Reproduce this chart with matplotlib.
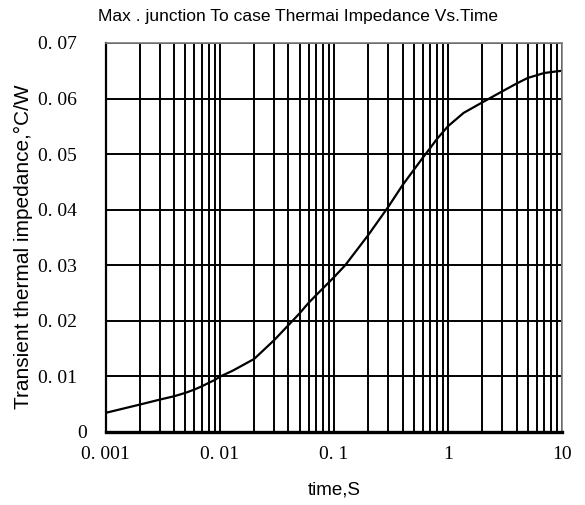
import numpy as np
import matplotlib.pyplot as plt
import matplotlib.transforms as mtransforms
from matplotlib.ticker import LogLocator, FixedLocator, FixedFormatter, NullFormatter

# curve (time in s, impedance in C/W)
t = [0.001, 0.002, 0.003, 0.004, 0.005, 0.006, 0.007, 0.008, 0.009, 0.01,
     0.013, 0.02, 0.03, 0.04, 0.05, 0.06, 0.07, 0.1, 0.126, 0.2,
     0.3, 0.4, 0.5, 0.6, 0.7, 0.8, 1, 1.37, 2, 3,
     4, 5, 7, 10]
z = [0.0034, 0.0049, 0.0058, 0.0064, 0.0070, 0.0076, 0.0082, 0.0088, 0.0093, 0.0099,
     0.0110, 0.0131, 0.0165, 0.0192, 0.0213, 0.0232, 0.0246, 0.0278, 0.0300, 0.0354,
     0.0405, 0.0444, 0.0471, 0.0493, 0.0511, 0.0527, 0.0550, 0.0574, 0.0593, 0.0613,
     0.0627, 0.0637, 0.0646, 0.0650]

xticks = [0.001, 0.01, 0.1, 1, 10]
xlabels = ['0. 001', '0. 01', '0. 1', '1', '10']
yticks = [0, 0.01, 0.02, 0.03, 0.04, 0.05, 0.06, 0.07]
ylabels = ['0', '0. 01', '0. 02', '0. 03', '0. 04', '0. 05', '0. 06', '0. 07']

sans = ['Liberation Sans Narrow', 'Liberation Sans', 'DejaVu Sans']
serif = ['Liberation Serif', 'DejaVu Serif']

fig = plt.figure(figsize=(5.85, 5.05), dpi=100)
ax = fig.add_axes([0.1807, 0.1451, 0.7800, 0.7698])

ax.set_xscale('log')
ax.set_xlim(0.001, 10)
ax.set_ylim(0, 0.07)

ax.xaxis.set_major_locator(FixedLocator(xticks))
ax.xaxis.set_major_formatter(FixedFormatter(xlabels))
ax.xaxis.set_minor_locator(LogLocator(base=10, subs=np.arange(2, 10)))
ax.xaxis.set_minor_formatter(NullFormatter())
ax.yaxis.set_major_locator(FixedLocator(yticks))
ax.yaxis.set_major_formatter(FixedFormatter(ylabels))

ax.grid(True, which='both', axis='x', color='black', lw=1.4)
ax.grid(True, which='major', axis='y', color='black', lw=1.4)
ax.tick_params(which='both', length=0, labelsize=14)
ax.tick_params(axis='x', pad=10)
ax.tick_params(axis='y', pad=20.5)
for lab in ax.get_xticklabels() + ax.get_yticklabels():
    lab.set_family(serif)

ax.plot(t, z, color='black', lw=1.6)

ax.spines['left'].set_linewidth(1.6)
ax.spines['bottom'].set_linewidth(2.4)
for s in ['top', 'right']:
    ax.spines[s].set_color('#808080')
    ax.spines[s].set_linewidth(1.2)

ax.set_xlabel('time,S', family=sans, fontsize=13.5)
ax.xaxis.set_label_coords(0.5, -0.128)
ax.set_ylabel('Transient thermal impedance,°C/W', family=sans, fontsize=15)
ax.yaxis.set_label_coords(-0.159, 0.476)
fig.text(298 / 585, 1 - 17 / 505, 'Max . junction To case Thermai Impedance Vs.Time',
         family=sans, fontsize=12.5, ha='center', va='center')

# the "0" label sits closer to the axis than the others
zero = ax.yaxis.get_major_ticks()[0].label1
zero.set_transform(zero.get_transform() +
                   mtransforms.ScaledTranslation(10 / 100, 0, fig.dpi_scale_trans))

plt.savefig('out.png', dpi=100)
